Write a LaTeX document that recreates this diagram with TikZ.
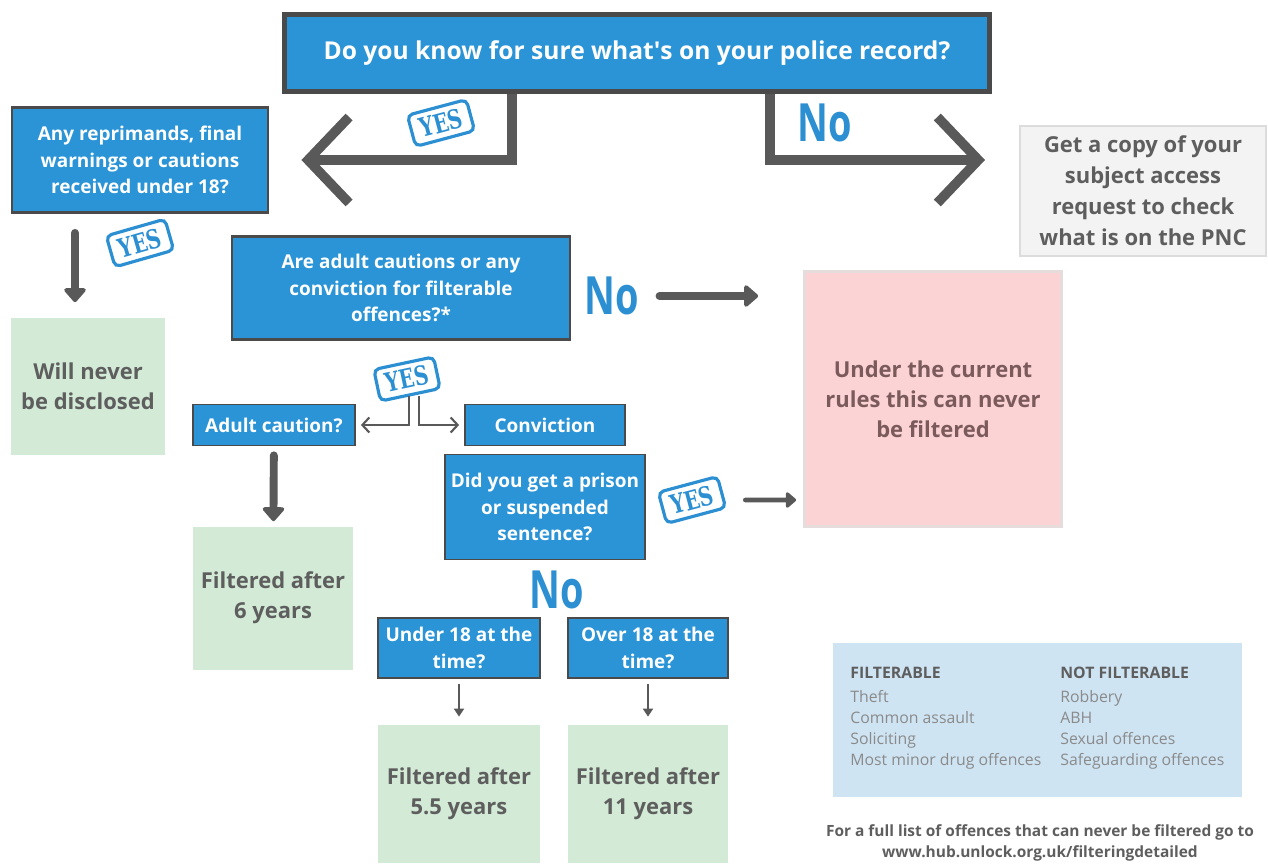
\documentclass[tikz,border=0pt]{standalone}
\usepackage{fontspec}
\setmainfont{Open Sans}
\newfontfamily\plainfont{Open Sans}
\newfontfamily\stampfont{DejaVu Serif}
\usetikzlibrary{arrows.meta}

\definecolor{qblue}{HTML}{2A94D6}
\definecolor{qedge}{HTML}{4A4A4A}
\definecolor{arrowgray}{HTML}{595959}
\definecolor{textgray}{HTML}{5E5E5E}
\definecolor{greenfill}{HTML}{D3EBD6}
\definecolor{pinkfill}{HTML}{FCD3D5}
\definecolor{pinkline}{HTML}{E6DCDC}
\definecolor{pinktext}{HTML}{7B5A5C}
\definecolor{grayfill}{HTML}{F3F3F3}
\definecolor{grayline}{HTML}{DCDCDC}
\definecolor{legendfill}{HTML}{CFE4F3}
\definecolor{legendtext}{HTML}{8A8A8A}
\definecolor{stampblue}{HTML}{2C8FD2}

\begin{document}
\begin{tikzpicture}[x=0.2mm,y=-0.2mm,
    question/.style={fill=qblue,draw=qedge,line width=1.6pt,text=white,align=center,inner sep=0pt,
      font=\bfseries\fontsize{10.8}{15}\selectfont},
    outcome/.style={inner sep=0pt,align=center,text=textgray,font=\bfseries\fontsize{12.5}{17}\selectfont},
    stamp/.style={draw=stampblue,text=stampblue,line width=1.8pt,rounded corners=3pt,
      inner xsep=5pt,inner ysep=3.5pt,font=\stampfont\bfseries\fontsize{15}{15}\selectfont},
    nolabel/.style={text=stampblue,inner sep=0pt,font=\bfseries\fontsize{30}{30}\selectfont},
    bigarrow/.style={draw=arrowgray,line width=5.5pt,-{Straight Barb[length=0.82cm,width=1.72cm]}},
    midarrow/.style={draw=arrowgray,line width=4.5pt,line cap=round,-{Triangle[length=0.3cm,width=0.5cm,round]}},
    medarrow/.style={draw=arrowgray,line width=2.6pt,line cap=round,-{Triangle[length=0.22cm,width=0.36cm,round]}},
    thinarrow/.style={draw=arrowgray,line width=1.2pt,-{Straight Barb[length=0.14cm,width=0.3cm]}},
    tinyarrow/.style={draw=arrowgray,line width=1.4pt,-{Triangle[length=0.16cm,width=0.2cm]}}]

      \useasboundingbox (0,0) rectangle (1268,863);

      \begin{scope}[every node/.style={question}]
        \node[line width=2.6pt,minimum width=14.1cm,minimum height=1.54cm,
          font=\bfseries\fontsize{14}{16}\selectfont] (q0) at (637,53) {Do you know for sure what{\plainfont\bfseries '}s on your police record?};
        \node[minimum width=5.12cm,minimum height=2.1cm] (q1) at (140,160) {Any reprimands, final\\warnings or cautions\\received under 18?};
        \node[minimum width=6.76cm,minimum height=2.06cm] (q2) at (401,288) {Are adult cautions or any\\conviction for filterable\\offences?*};
        \node[line width=1pt,minimum width=3.24cm,minimum height=0.82cm] (caution) at (274,425) {Adult caution?};
        \node[line width=1pt,minimum width=3.2cm,minimum height=0.82cm] (conv) at (545,425) {Conviction};
        \node[line width=1pt,minimum width=4cm,minimum height=2.1cm] (prison) at (545,507) {Did you get a prison\\or suspended\\sentence?};
        \node[line width=1pt,minimum width=3.24cm,minimum height=1.2cm] (under) at (459,648) {Under 18 at the\\time?};
        \node[line width=1pt,minimum width=3.2cm,minimum height=1.2cm] (over) at (648,648) {Over 18 at the\\time?};
      \end{scope}

      \begin{scope}[every node/.style={outcome}]
        \node[fill=grayfill,draw=grayline,line width=1.5pt,minimum width=4.92cm,minimum height=2.6cm,
          font=\bfseries\fontsize{12.5}{17.6}\selectfont] (sar) at (1143,191)
          {Get a copy of your\\subject access\\request to check\\what is on the PNC};
        \node[fill=greenfill,minimum width=3.06cm,minimum height=2.74cm] (never) at (88,386) {Will never\\be disclosed};
        \node[fill=pinkfill,draw=pinkline,line width=1.5pt,text=pinktext,minimum width=5.14cm,minimum height=5.1cm] (notfilt) at (933,399)
          {Under the current\\rules this can never\\be filtered};
        \node[fill=greenfill,minimum width=3.2cm,minimum height=2.86cm] (six) at (273,598) {Filtered after\\6 years};
        \node[fill=greenfill,minimum width=3.24cm,minimum height=2.76cm] (fivehalf) at (459,794) {Filtered after\\5.5 years};
        \node[fill=greenfill,minimum width=3.2cm,minimum height=2.76cm] (eleven) at (648,794) {Filtered after\\11 years};
      \end{scope}

      \node[fill=legendfill,minimum width=8.18cm,minimum height=3.08cm] (legend) at (1037,720) {};
      \begin{scope}[every node/.style={anchor=north west,align=left,inner sep=0pt,text=legendtext,
          font=\fontsize{9}{12}\selectfont}]
        \node (filt) at (850,667) {\textcolor{textgray}{\bfseries FILTERABLE}\\[1.5pt]Theft\\Common assault\\Soliciting\\Most minor drug offences};
        \node (nofilt) at (1060,667) {\textcolor{textgray}{\bfseries NOT FILTERABLE}\\[1.5pt]Robbery\\ABH\\Sexual offences\\Safeguarding offences};
      \end{scope}
      \node[align=center,text=textgray,font=\bfseries\fontsize{8.8}{12}\selectfont] (note) at (1040,843)
        {For a full list of offences that can never be filtered go to\\www.hub.unlock.org.uk/filteringdetailed};

      \begin{scope}[every node/.style={stamp}]
        \node[rotate=15] (s1) at (441,123) {\scalebox{0.75}[1]{YES}};
        \node[rotate=16] (s2) at (140,243) {\scalebox{0.75}[1]{YES}};
        \node[rotate=12] (s3) at (407,379) {\scalebox{0.75}[1]{YES}};
        \node[rotate=15] (s4) at (692,500) {\scalebox{0.75}[1]{YES}};
      \end{scope}

      \begin{scope}[every node/.style={nolabel}]
        \node (no1) at (825,123) {\scalebox{0.72}[1]{No}};
        \node (no2) at (612,296) {\scalebox{0.72}[1]{No}};
        \node (no3) at (557,590) {\scalebox{0.72}[1]{No}};
      \end{scope}

      \coordinate (yx) at (512,0);
      \coordinate (nx) at (770,0);
      \coordinate (ax) at (75,0);
      \coordinate (noend) at (985,160);
      \draw[bigarrow] (q0.south -| yx) |- ([xshift=0.64cm]q1.east);
      \draw[bigarrow] (q0.south -| nx) |- (noend);
      \draw[midarrow,shorten <=0.38cm,shorten >=0.3cm] (q1.south -| ax) -- (never.north -| ax);
      \draw[midarrow,shorten <=0.18cm,shorten >=0.1cm] (caution) -- (six);
      \draw[midarrow,shorten <=0.4cm,shorten >=0.9cm] (no2) -- (no2 -| notfilt.west);
      \draw[medarrow,shorten <=0.4cm,shorten >=0.14cm] (s4) -- (s4 -| notfilt.west);
      \draw[thinarrow] ([xshift=-0.04cm]s3.south) |- ([xshift=0.1cm]caution.east);
      \draw[thinarrow] ([xshift=0.16cm]s3.south) |- ([xshift=-0.1cm]conv.west);
      \draw[tinyarrow,shorten <=0.1cm,shorten >=0.16cm] (under) -- (fivehalf);
      \draw[tinyarrow,shorten <=0.1cm,shorten >=0.16cm] (over) -- (eleven);

\end{tikzpicture}
\end{document}
